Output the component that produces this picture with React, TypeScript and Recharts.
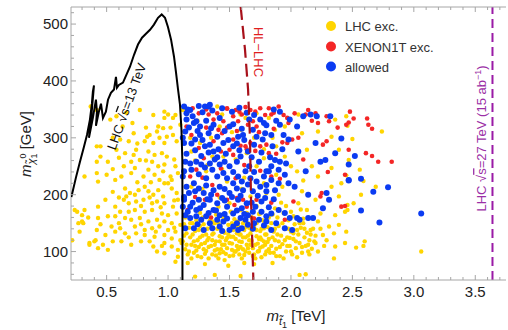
import { ScatterChart, Scatter, XAxis, YAxis, ReferenceLine } from "recharts";

// LHC-excluded points (yellow)
const LHC_EXC: [number, number][] = [
  [0.88, 340], [0.97, 346], [0.97, 335], [1.06, 340], [1.1, 323], [0.72, 308], [0.85, 305], [0.92, 320], [0.96, 317], [1.04, 305],
  [0.68, 294], [0.81, 294], [0.88, 291], [0.97, 291], [1.07, 294], [0.42, 285], [0.58, 279], [0.65, 273], [0.74, 279], [0.84, 276],
  [0.89, 270], [0.95, 273], [0.99, 267], [0.77, 261], [0.7, 258], [0.87, 258], [0.97, 253], [1.06, 250], [0.42, 258], [0.51, 258],
  [0.64, 250], [0.73, 247], [0.84, 244], [0.96, 241], [1.02, 232], [1.03, 226], [1.0, 220], [0.42, 238], [0.5, 235], [0.57, 226],
  [0.7, 238], [0.8, 232], [0.89, 235], [0.93, 226], [0.97, 220], [0.32, 232], [0.43, 223], [0.65, 211], [0.69, 203], [0.66, 197],
  [0.73, 200], [0.76, 208], [0.81, 214], [0.84, 206], [0.88, 200], [0.92, 208], [0.96, 197], [1.03, 211], [1.07, 203], [1.08, 191],
  [0.64, 191], [0.68, 185], [0.74, 188], [0.8, 191], [0.87, 185], [0.91, 188], [0.97, 185], [1.04, 179], [0.49, 191], [0.43, 179],
  [0.57, 179], [0.61, 170], [0.68, 170], [0.73, 173], [0.81, 170], [0.87, 173], [0.95, 167], [1.0, 164], [1.07, 167], [0.24, 173],
  [0.3, 164], [0.27, 150], [0.31, 150], [0.43, 159], [0.51, 162], [0.57, 162], [0.65, 159], [0.7, 156], [0.77, 159], [0.84, 153],
  [0.91, 156], [0.97, 153], [1.03, 150], [1.1, 147], [0.54, 144], [0.61, 141], [0.73, 144], [0.81, 138], [0.87, 141], [0.93, 144],
  [1.0, 138], [1.06, 135], [0.42, 138], [0.49, 129], [0.57, 135], [0.65, 132], [0.74, 132], [0.81, 129], [0.89, 126], [0.97, 129],
  [1.03, 123], [1.1, 120], [0.36, 115], [0.4, 118], [0.51, 103], [0.62, 118], [0.7, 112], [0.78, 118], [0.88, 109], [0.97, 115],
  [1.03, 109], [1.08, 103], [0.91, 100], [0.97, 97], [1.06, 82], [1.08, 91], [1.11, 115], [0.37, 355], [0.42, 349], [0.45, 285],
  [0.53, 332], [0.58, 338], [0.66, 344], [0.71, 326], [0.77, 349], [1.0, 341], [1.04, 335], [0.61, 297], [0.83, 302], [0.91, 311],
  [0.99, 302], [0.45, 267], [0.22, 120], [0.26, 170], [0.3, 153], [0.32, 173], [0.36, 112], [0.41, 120], [0.43, 106],
  [0.55, 300], [0.63, 320], [0.75, 290], [0.82, 318], [0.93, 300], [1.02, 318], [0.6, 265], [0.72, 270], [0.82, 260], [0.92, 250],
  [1.05, 262], [0.55, 245], [0.62, 232], [0.75, 222], [0.86, 222], [1.08, 238], [0.55, 205], [0.6, 195], [0.78, 180], [0.85, 195],
  [0.94, 178], [1.05, 190], [0.35, 160], [0.45, 148], [0.6, 150], [0.78, 148], [0.9, 135], [1.05, 142], [0.55, 118], [0.68, 125],
  [0.85, 118], [0.95, 110], [0.47, 112], [0.28, 135],
  // between the curves
  [1.12, 349], [1.4, 355], [1.44, 341], [1.59, 341], [1.72, 343], [1.19, 276], [1.45, 267], [1.64, 273], [1.78, 264], [1.31, 241],
  [1.48, 223], [1.8, 203], [1.67, 197], [1.26, 191], [1.5, 185], [1.15, 332], [1.26, 291], [1.59, 314], [1.36, 267], [1.72, 250],
  [1.19, 214], [1.41, 179], [1.59, 173], [1.75, 167], [1.15, 164], [1.36, 153], [1.69, 159], [1.78, 141], [1.57, 153],
  [1.18, 300], [1.24, 330], [1.35, 300], [1.42, 320], [1.52, 310], [1.63, 335], [1.7, 300], [1.78, 280], [1.85, 300], [1.95, 320],
  [1.22, 260], [1.32, 252], [1.44, 245], [1.55, 262], [1.62, 230], [1.78, 220], [1.88, 235], [1.28, 210], [1.42, 195], [1.6, 210],
  [1.72, 180], [1.9, 200], [2.0, 250], [2.1, 225],
  [1.13, 148], [1.15, 132], [1.12, 118], [1.14, 104], [1.16, 95], [1.18, 125], [1.19, 112], [1.2, 150], [1.21, 98], [1.22, 136],
  [1.24, 120], [1.25, 108], [1.26, 145], [1.27, 90], [1.28, 128], [1.3, 115], [1.31, 101], [1.32, 140], [1.33, 124], [1.35, 110],
  [1.36, 95], [1.37, 132], [1.38, 150], [1.39, 118], [1.4, 104], [1.41, 88], [1.42, 127], [1.43, 141], [1.44, 112], [1.45, 99],
  [1.46, 133], [1.47, 120], [1.48, 106], [1.49, 147], [1.5, 92], [1.51, 126], [1.52, 114], [1.53, 138], [1.54, 100], [1.55, 122],
  [1.56, 110], [1.57, 145], [1.58, 95], [1.59, 130], [1.6, 117], [1.61, 104], [1.62, 138], [1.63, 125], [1.64, 112], [1.65, 150],
  [1.66, 98], [1.67, 132], [1.68, 119], [1.69, 106], [1.7, 143], [1.71, 88], [1.72, 127], [1.73, 114], [1.74, 101], [1.75, 136],
  [1.76, 121], [1.77, 109], [1.78, 148], [1.79, 95], [1.8, 130], [1.81, 117], [1.82, 104], [1.83, 140], [1.14, 160], [1.17, 142],
  [1.19, 88], [1.23, 155], [1.24, 92], [1.28, 160], [1.29, 104], [1.33, 88], [1.34, 155], [1.36, 120], [1.38, 102], [1.4, 140],
  [1.42, 97], [1.45, 160], [1.46, 85], [1.48, 124], [1.5, 137], [1.52, 103], [1.54, 157], [1.56, 132], [1.58, 118], [1.6, 88],
  [1.61, 150], [1.63, 100], [1.65, 128], [1.67, 112], [1.68, 160], [1.7, 95], [1.72, 138], [1.74, 122], [1.76, 90], [1.77, 155],
  [1.79, 112], [1.81, 143], [1.83, 98], [1.22, 110], [1.31, 130], [1.44, 125], [1.53, 93], [1.57, 104], [1.66, 142], [1.75, 107],
  [1.26, 168], [1.39, 165], [1.51, 170], [1.64, 168], [1.74, 166], [1.82, 160], [1.3, 78], [1.49, 75], [1.7, 78], [1.16, 80],
  [1.85, 80], [1.62, 80],
  [1.13, 128], [1.15, 112], [1.17, 100], [1.18, 150], [1.2, 130], [1.21, 118], [1.23, 102], [1.25, 138], [1.26, 125], [1.27, 113],
  [1.29, 148], [1.3, 96], [1.32, 120], [1.33, 108], [1.35, 144], [1.36, 130], [1.38, 112], [1.39, 93], [1.41, 150], [1.42, 118],
  [1.43, 104], [1.45, 136], [1.46, 112], [1.47, 96], [1.49, 130], [1.5, 115], [1.52, 150], [1.53, 126], [1.55, 100], [1.56, 143],
  [1.58, 130], [1.59, 108], [1.61, 125], [1.62, 94], [1.63, 143], [1.65, 106], [1.66, 120], [1.68, 138], [1.69, 92], [1.71, 112],
  [1.72, 150], [1.73, 100], [1.75, 125], [1.76, 140], [1.78, 118], [1.79, 130], [1.8, 100], [1.82, 122], [1.84, 110], [1.85, 125],
  [1.87, 140], [1.88, 92], [1.89, 130], [1.91, 108], [1.93, 150], [1.95, 120], [1.97, 110], [1.98, 140], [2.0, 100], [2.02, 132],
  [2.04, 118], [2.07, 150], [2.09, 108], [2.11, 140], [2.14, 112], [2.16, 130], [2.19, 118], [2.22, 100], [2.24, 140], [2.27, 110],
  // beyond HL-LHC
  [1.82, 335], [2.06, 341], [2.36, 332], [2.45, 338], [1.87, 314], [2.09, 308], [2.22, 311], [2.33, 302], [1.88, 285], [2.13, 279],
  [2.39, 279], [2.47, 261], [1.95, 267], [2.17, 250], [2.33, 247], [2.05, 241], [2.22, 232], [2.41, 220], [1.93, 214], [2.09, 206],
  [2.33, 214], [2.2, 191], [2.39, 197], [2.06, 185], [2.13, 173], [2.24, 167], [2.36, 164], [2.44, 170], [2.1, 150], [2.22, 153],
  [2.31, 144], [2.39, 147], [2.16, 138], [2.26, 129], [2.35, 132], [2.45, 135], [2.2, 115], [2.29, 120], [2.36, 109], [2.44, 115],
  [2.14, 100], [2.35, 88], [1.84, 150], [1.86, 135], [1.87, 120], [1.88, 105], [1.9, 145], [1.91, 92], [1.92, 128], [1.93, 113],
  [1.95, 140], [1.96, 100], [1.97, 125], [1.98, 155], [1.99, 110], [2.0, 135], [2.01, 95], [2.02, 122], [2.03, 148], [2.04, 106],
  [2.06, 130], [2.07, 115], [2.08, 142], [2.09, 98], [2.11, 125], [2.12, 110], [1.85, 165], [1.89, 160], [1.94, 168], [2.02, 162],
  [2.1, 158], [1.86, 98], [1.94, 88], [2.05, 90], [1.9, 118], [1.99, 124], [2.05, 138], [2.13, 133], [2.15, 120], [2.17, 105],
  [2.18, 140], [2.2, 128], [2.0, 170], [1.87, 176], [1.96, 180], [2.08, 174], [1.92, 186], [2.15, 95],
  [2.46, 321], [2.74, 311], [2.5, 298], [2.56, 244], [2.45, 234], [2.59, 224], [2.69, 214], [2.57, 200], [2.46, 182], [2.51, 185],
  [2.46, 173], [2.6, 118], [2.59, 110], [2.53, 107], [3.06, 100], [2.07, 59], [2.12, 60], [1.22, 56], [1.38, 59], [1.59, 57],
];

// XENON1T-excluded points (red)
const XENON_EXC: [number, number][] = [
  [1.48, 352], [1.55, 349], [1.67, 349], [1.75, 352], [1.82, 352], [1.37, 332], [1.33, 341], [1.45, 329], [1.57, 329], [1.65, 323],
  [1.69, 329], [1.72, 320], [1.37, 294], [1.44, 308], [1.53, 297], [1.63, 285], [1.67, 291], [1.5, 279], [1.29, 264], [1.53, 270],
  [1.75, 285], [1.8, 288], [1.3, 191], [1.48, 191], [1.56, 194], [1.61, 191], [1.72, 191], [1.18, 232], [1.55, 229], [1.36, 217],
  [1.64, 179], [1.25, 343], [1.6, 341], [1.41, 314], [1.23, 244], [1.15, 320], [1.16, 173], [1.48, 351], [1.53, 338], [1.64, 280],
  [1.2, 352], [1.31, 350], [1.4, 343], [1.58, 346], [1.63, 354], [1.71, 346], [1.79, 340], [1.86, 344], [1.94, 340], [1.19, 305],
  [1.31, 318], [1.48, 318], [1.56, 312], [1.74, 310], [1.86, 316], [1.93, 292], [1.25, 282], [1.43, 276], [1.59, 286], [1.71, 277],
  [1.88, 272], [1.28, 230], [1.43, 246], [1.62, 252], [1.75, 242], [1.91, 228], [1.22, 196], [1.4, 200], [1.54, 182], [1.7, 158],
  [1.35, 160], [1.84, 186],
  [1.9, 355], [1.84, 341], [1.97, 335], [1.98, 326], [2.03, 343], [2.12, 341], [2.14, 349], [2.2, 343], [2.29, 338], [2.31, 329],
  [2.22, 326], [2.45, 323], [2.29, 294], [2.26, 288], [1.97, 291], [2.01, 297], [1.82, 273], [1.84, 232], [2.44, 235], [2.41, 179],
  [2.44, 180], [2.24, 197], [2.25, 203], [1.95, 156], [2.06, 300], [2.17, 330], [2.38, 318], [2.1, 262], [2.3, 240], [2.02, 188],
  [2.48, 346], [2.51, 334], [2.47, 327], [2.62, 334], [2.63, 323], [2.66, 316], [2.47, 279], [2.61, 273], [2.66, 268], [2.71, 258],
  [2.82, 258],
];

// allowed points (blue)
const ALLOWED: [number, number][] = [
  [1.3, 355], [1.34, 358], [1.23, 329], [1.14, 311], [1.21, 326], [1.26, 320], [1.37, 323], [1.42, 335], [1.33, 308], [1.26, 305],
  [1.22, 297], [1.4, 302], [1.5, 320], [1.57, 302], [1.61, 305], [1.69, 314], [1.75, 332], [1.78, 326], [1.72, 302], [1.79, 308],
  [1.14, 258], [1.18, 255], [1.23, 258], [1.27, 253], [1.34, 255], [1.36, 244], [1.4, 232], [1.45, 238], [1.5, 250], [1.56, 258],
  [1.59, 267], [1.63, 241], [1.67, 229], [1.72, 223], [1.78, 232], [1.8, 241], [1.21, 220], [1.25, 211], [1.29, 203], [1.37, 208],
  [1.42, 214], [1.5, 203], [1.56, 211], [1.61, 208], [1.69, 206], [1.75, 214], [1.12, 179], [1.18, 179], [1.23, 173], [1.29, 182],
  [1.37, 173], [1.42, 164], [1.48, 179], [1.53, 167], [1.6, 176], [1.64, 185], [1.71, 179], [1.76, 170], [1.18, 159], [1.23, 162],
  [1.31, 162], [1.4, 156], [1.45, 153], [1.53, 144], [1.6, 141], [1.65, 147], [1.74, 156], [1.8, 153], [1.14, 141], [1.21, 141],
  [1.29, 138], [1.36, 141], [1.5, 138], [1.15, 343], [1.45, 291], [1.53, 285], [1.3, 285], [1.37, 276], [1.65, 276], [1.74, 258],
  [1.42, 253], [1.31, 229], [1.48, 229], [1.6, 223], [1.17, 203], [1.44, 194], [1.57, 191], [1.79, 194], [1.25, 191], [1.34, 191],
  [1.65, 164], [1.27, 156], [1.59, 159], [1.13, 355], [1.13, 291], [1.13, 241], [1.13, 191], [1.14, 164], [1.18, 349], [1.25, 356],
  [1.33, 355], [1.15, 332],
  [1.16, 350], [1.2, 338], [1.28, 345], [1.36, 348], [1.44, 352], [1.52, 346], [1.58, 353], [1.64, 344], [1.7, 340], [1.86, 350],
  [1.17, 318], [1.24, 312], [1.31, 330], [1.35, 317], [1.46, 312], [1.53, 324], [1.6, 316], [1.66, 332], [1.8, 322], [1.88, 330],
  [1.12, 300], [1.19, 290], [1.28, 296], [1.34, 288], [1.41, 280], [1.49, 296], [1.56, 290], [1.62, 296], [1.7, 288], [1.77, 297],
  [1.85, 285], [1.15, 272], [1.22, 278], [1.27, 268], [1.33, 274], [1.4, 266], [1.47, 272], [1.58, 278], [1.68, 266], [1.76, 274],
  [1.83, 266], [1.93, 280], [1.12, 232], [1.19, 244], [1.25, 236], [1.3, 248], [1.38, 262], [1.46, 258], [1.53, 240], [1.57, 232],
  [1.66, 250], [1.7, 240], [1.84, 250], [1.96, 255], [1.15, 214], [1.22, 206], [1.31, 216], [1.35, 200], [1.46, 210], [1.53, 220],
  [1.59, 198], [1.65, 218], [1.73, 198], [1.8, 206], [1.9, 220], [1.13, 196], [1.2, 186], [1.32, 192], [1.4, 185], [1.46, 190],
  [1.52, 196], [1.68, 186], [1.76, 188], [1.86, 192], [1.16, 170], [1.26, 176], [1.33, 168], [1.39, 172], [1.46, 166], [1.56, 172],
  [1.62, 166], [1.69, 170], [1.82, 178], [1.95, 168], [1.24, 148], [1.34, 150], [1.42, 144], [1.48, 158], [1.56, 150], [1.63, 156],
  [1.7, 150], [1.78, 146], [1.88, 150], [1.44, 136], [1.69, 140], [1.84, 138], [1.57, 138],
  [1.91, 346], [1.99, 332], [2.05, 320], [2.1, 338], [2.16, 341], [2.21, 338], [2.32, 338], [1.91, 323], [1.84, 305], [1.94, 305],
  [1.98, 297], [2.06, 276], [2.2, 291], [2.28, 261], [2.36, 273], [2.41, 299], [2.47, 226], [1.87, 261], [1.91, 258], [1.8, 217],
  [1.82, 241], [1.9, 244], [1.95, 235], [1.84, 226], [1.98, 220], [2.03, 214], [1.87, 208], [2.14, 200], [2.26, 176], [2.31, 191],
  [2.18, 159], [1.99, 159], [2.05, 159], [2.07, 156], [2.14, 159], [1.95, 141], [2.01, 138], [1.8, 162], [1.84, 167], [1.9, 173],
  [2.29, 203], [2.24, 258], [2.12, 241],
  [2.52, 268], [2.47, 253], [2.57, 228], [2.47, 225], [2.79, 213], [2.67, 205], [2.57, 172], [3.06, 167], [2.72, 151],
];

// LHC 13 TeV exclusion contour
const LHC13_CURVE: [number, number][] = [
  [0.213, 196], [0.25, 230], [0.283, 258], [0.315, 284], [0.34, 305], [0.364, 332], [0.38, 360], [0.388, 381], [0.397, 392],
  [0.38, 349], [0.356, 300], [0.388, 335], [0.413, 367], [0.421, 346], [0.413, 321], [0.437, 346], [0.454, 360], [0.47, 335],
  [0.494, 346], [0.511, 367], [0.535, 379], [0.56, 385], [0.576, 407], [0.584, 388], [0.6, 393], [0.633, 397], [0.657, 409],
  [0.69, 425], [0.723, 446], [0.755, 464], [0.788, 476], [0.82, 483], [0.853, 490], [0.885, 499], [0.918, 511], [0.948, 517],
  [0.975, 511], [0.999, 495], [1.024, 473], [1.048, 443], [1.064, 416], [1.081, 385], [1.097, 358], [1.109, 314], [1.116, 261],
  [1.117, 191], [1.117, 50],
];

// HL-LHC reach
const HL_LHC_CURVE: [number, number][] = [
  [1.591, 530], [1.626, 455], [1.651, 385], [1.667, 297], [1.675, 191], [1.687, 103], [1.694, 50],
];

const LHC27_REACH = 3.64;

const X_TICKS = [0.3, 0.4, 0.5, 0.6, 0.7, 0.8, 0.9, 1.0, 1.1, 1.2, 1.3, 1.4, 1.5, 1.6, 1.7, 1.8, 1.9, 2.0, 2.1, 2.2, 2.3, 2.4,
  2.5, 2.6, 2.7, 2.8, 2.9, 3.0, 3.1, 3.2, 3.3, 3.4, 3.5, 3.6, 3.7];
const Y_TICKS = [60, 80, 100, 120, 140, 160, 180, 200, 220, 240, 260, 280, 300, 320, 340, 360, 380, 400, 420, 440, 460, 480,
  500, 520];

const FONT = "'Liberation Sans', Arial, Helvetica, sans-serif";
const FRAME = "#a6a6a6";
const YELLOW = "#FFD500";
const RED = "#F42626";
const BLUE = "#0B3BF2";

const pts = (a: [number, number][]) => a.map(([x, y]) => ({ x, y }));

const dot = (fill: string, r: number) => (p: any) => <circle cx={p.cx} cy={p.cy} r={r} fill={fill} />;
const noDot = () => <g />;

const isMajorX = (v: number) => Math.abs(v * 2 - Math.round(v * 2)) < 1e-6;

function XTick(props: any) {
  const { x, y, payload, top } = props;
  const v = payload.value as number;
  const major = isMajorX(v);
  const len = major ? 5 : 3;
  return (
    <g>
      <line x1={x} x2={x} y1={y} y2={top ? y + len : y - len} stroke={FRAME} strokeWidth={1} />
      {!top && major && (
        <text x={x} y={y + 17} textAnchor="middle" fontSize={15} fontFamily={FONT} fill="#222">
          {v.toFixed(1)}
        </text>
      )}
    </g>
  );
}

function YTick(props: any) {
  const { x, y, payload } = props;
  const v = payload.value as number;
  const major = v % 100 === 0;
  return (
    <g>
      <line x1={x} x2={x + (major ? 5 : 3)} y1={y} y2={y} stroke={FRAME} strokeWidth={1} />
      {major && (
        <text x={x - 3} y={y + 5} textAnchor="end" fontSize={15} fontFamily={FONT} fill="#222">
          {v}
        </text>
      )}
    </g>
  );
}

export default function App() {
  return (
    <div style={{ position: "absolute", left: 0, top: 0, width: 508, height: 330, background: "#fff" }}>
      <ScatterChart width={508} height={330} margin={{ top: 0, right: 2, bottom: 0, left: 0 }}>
        <XAxis
          type="number"
          dataKey="x"
          domain={[0.21, 3.75]}
          ticks={X_TICKS}
          interval={0}
          allowDataOverflow
          height={50}
          tickSize={0}
          tickMargin={0}
          tickLine={false}
          axisLine={{ stroke: FRAME }}
          tick={<XTick />}
        />
        <XAxis
          xAxisId="top"
          orientation="top"
          type="number"
          dataKey="x"
          domain={[0.21, 3.75]}
          ticks={X_TICKS}
          interval={0}
          allowDataOverflow
          height={7}
          tickSize={0}
          tickMargin={0}
          tickLine={false}
          axisLine={{ stroke: FRAME }}
          tick={<XTick top />}
        />
        <YAxis
          type="number"
          dataKey="y"
          domain={[50, 530]}
          ticks={Y_TICKS}
          interval={0}
          allowDataOverflow
          width={71}
          tickSize={0}
          tickMargin={0}
          tickLine={false}
          axisLine={{ stroke: FRAME }}
          tick={<YTick />}
        />
        <Scatter data={pts(LHC_EXC)} shape={dot(YELLOW, 2.2)} isAnimationActive={false} />
        <Scatter data={pts(XENON_EXC)} shape={dot(RED, 2.3)} isAnimationActive={false} />
        <Scatter data={pts(ALLOWED)} shape={dot(BLUE, 3)} isAnimationActive={false} />
        <Scatter
          data={pts(LHC13_CURVE)}
          shape={noDot}
          line={{ stroke: "#000", strokeWidth: 2, fill: "none" }}
          lineType="joint"
          isAnimationActive={false}
        />
        <Scatter
          data={pts(HL_LHC_CURVE)}
          shape={noDot}
          line={{ stroke: "#A8101A", strokeWidth: 2.2, strokeDasharray: "13 6", fill: "none" }}
          lineType="joint"
          isAnimationActive={false}
        />
        <ReferenceLine x={LHC27_REACH} stroke="#9A1AA6" strokeWidth={2} strokeDasharray="9 5" />
      </ScatterChart>
      <svg width={508} height={330} style={{ position: "absolute", left: 0, top: 0, pointerEvents: "none" }} fontFamily={FONT}>
        <circle cx={331} cy={26} r={5} fill={YELLOW} />
        <circle cx={331} cy={46.5} r={5} fill={RED} />
        <circle cx={331} cy={66.5} r={5} fill={BLUE} />
        <text x={345} y={31} fontSize={13} fill="#333">LHC exc.</text>
        <text x={345} y={51.5} fontSize={13} fill="#333">XENON1T exc.</text>
        <text x={345} y={71.5} fontSize={13} fill="#333">allowed</text>

        <text transform="translate(126.5,106.5) rotate(-70)" textAnchor="middle" dy="0.35em" fontSize={13} fill="#111">
          LHC √<tspan textDecoration="overline">s</tspan>=13 TeV
        </text>
        <text transform="translate(259,52) rotate(90)" textAnchor="middle" dy="0.35em" fontSize={13} fill="#E01E1E">
          HL−LHC
        </text>
        <text transform="translate(481.5,138.5) rotate(-90)" textAnchor="middle" dy="0.35em" fontSize={13} fill="#9B2FA6">
          LHC √<tspan textDecoration="overline">s</tspan>=27 TeV (15 ab<tspan fontSize={9} dy={-5}>−1</tspan><tspan dy={5}>)</tspan>
        </text>

        <text transform="translate(31,144) rotate(-90)" textAnchor="middle" fontSize={15} fill="#222">
          <tspan fontStyle="italic">m</tspan>
          <tspan fontSize={11} dy={4} fontStyle="italic">χ̃</tspan>
          <tspan fontSize={9} dy={2}>1</tspan>
          <tspan fontSize={9} dx={-5} dy={-11}>0</tspan>
          <tspan dy={5}> [GeV]</tspan>
        </text>
        <text x={296} y={321} textAnchor="middle" fontSize={15} fill="#222">
          <tspan fontStyle="italic">m</tspan>
          <tspan fontSize={11} dy={4} fontStyle="italic">t̃</tspan>
          <tspan fontSize={9} dy={3}>1</tspan>
          <tspan dy={-7}> [TeV]</tspan>
        </text>
      </svg>
    </div>
  );
}
